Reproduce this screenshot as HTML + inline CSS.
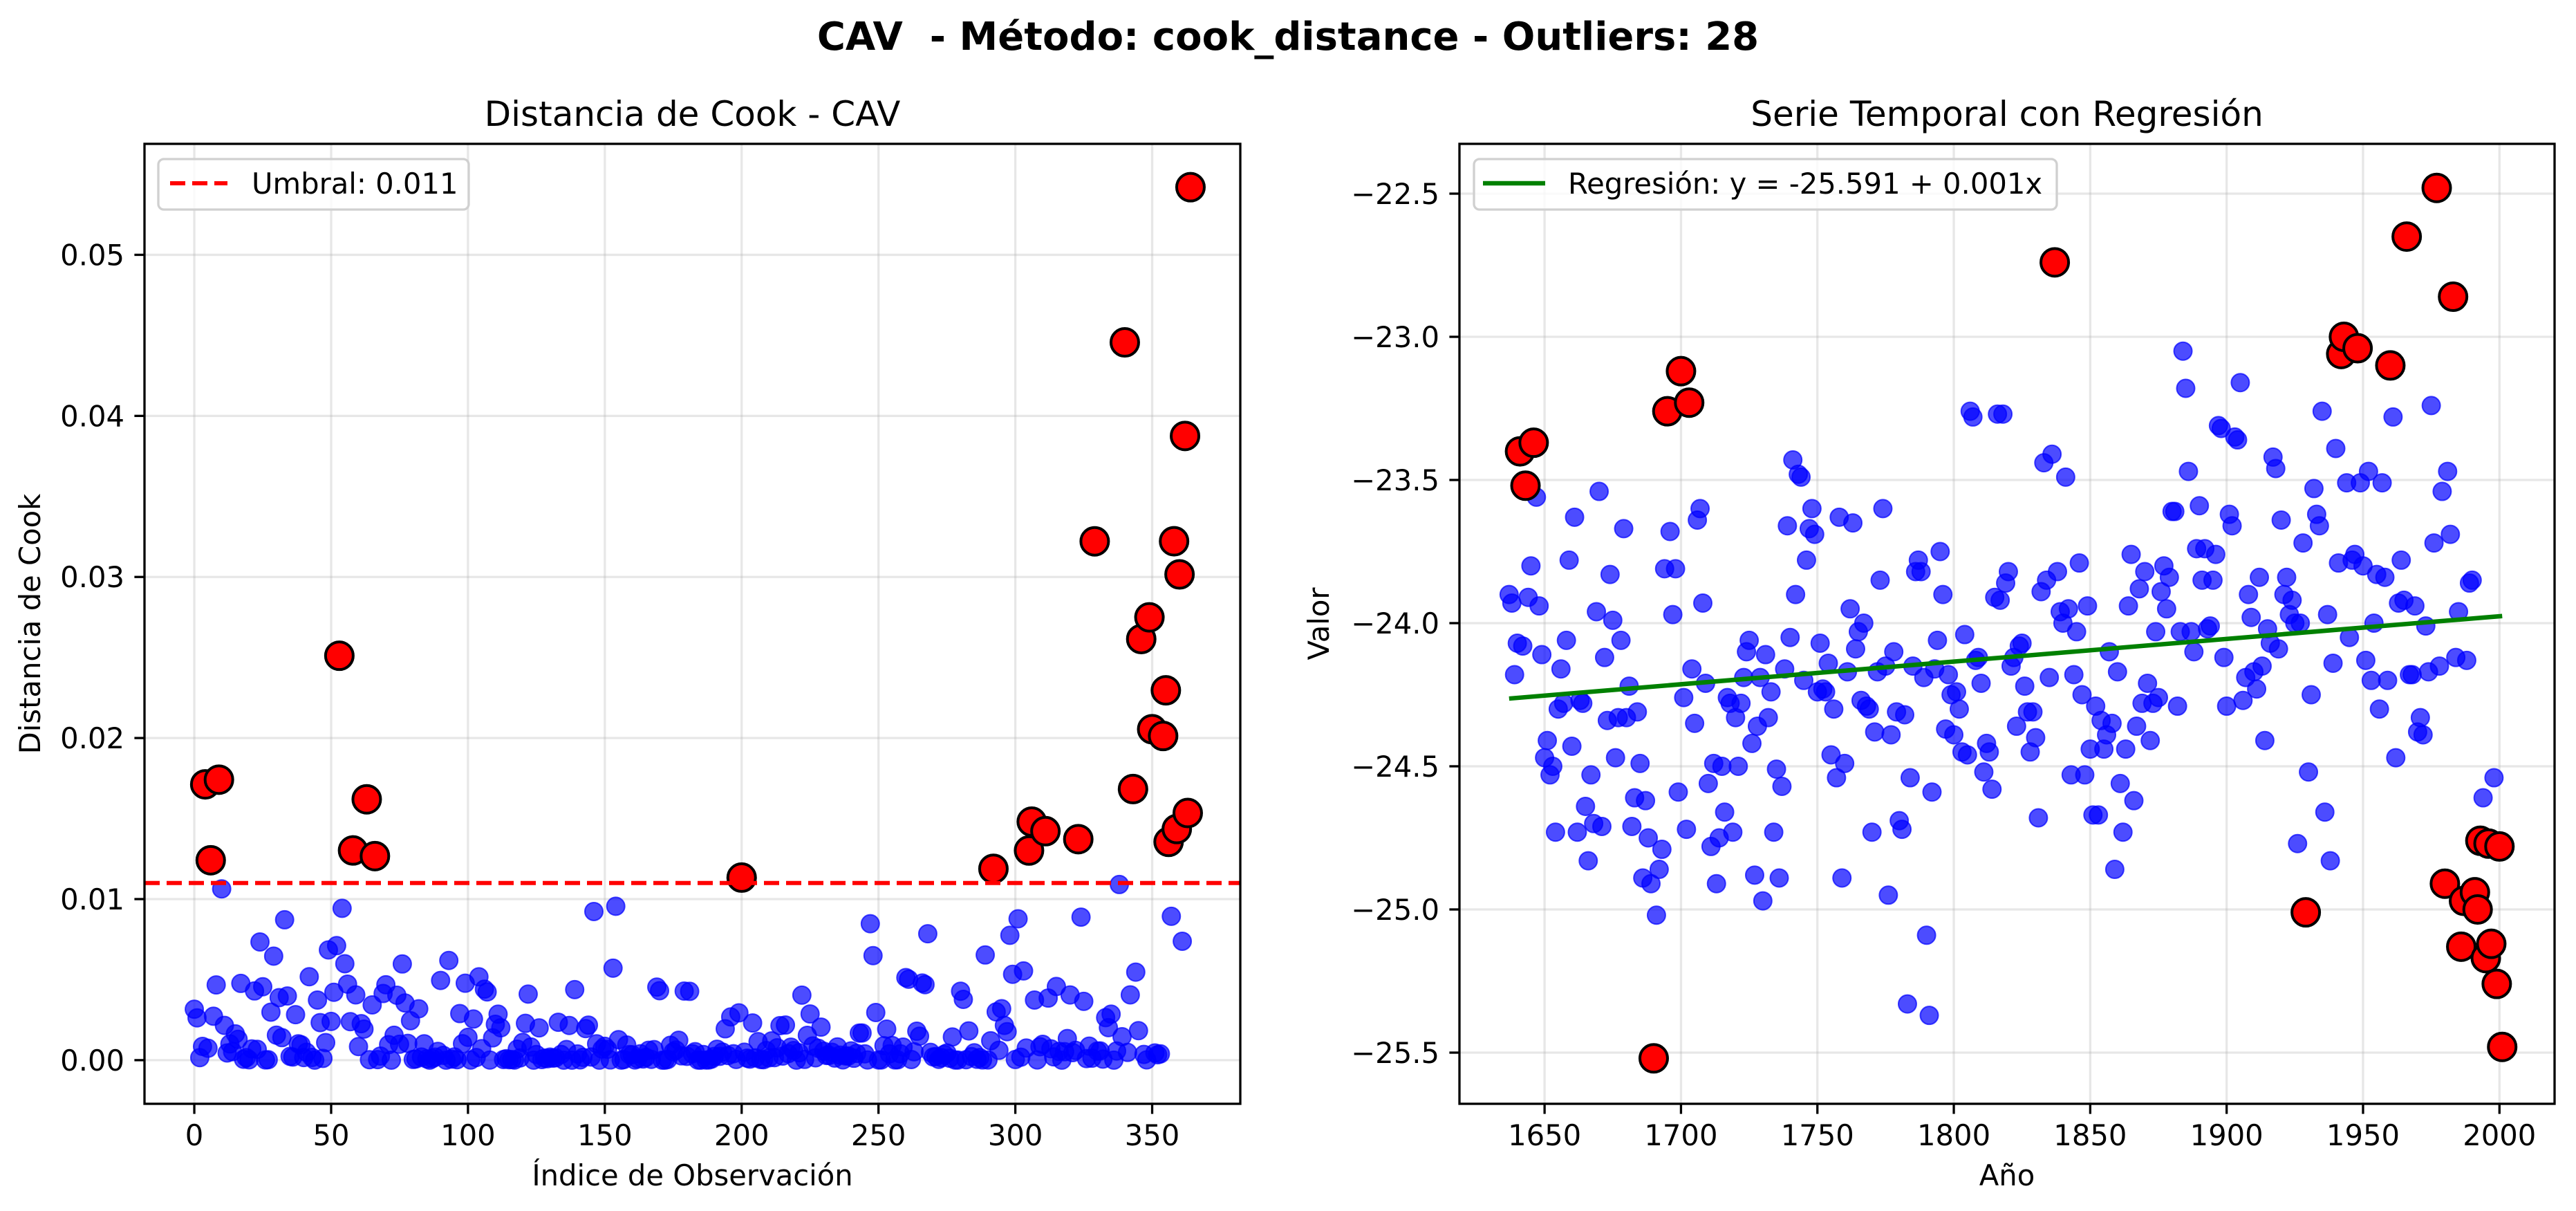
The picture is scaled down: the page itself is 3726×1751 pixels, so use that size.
<!DOCTYPE html>
<html><head><meta charset="utf-8"><style>
html,body{margin:0;padding:0;background:#fff;}
svg{display:block;font-family:"DejaVu Sans","Liberation Sans",sans-serif;}
</style></head><body>
<svg id="fig" width="3726" height="1751" viewBox="0 0 3726 1751" xmlns="http://www.w3.org/2000/svg">
<rect x="0" y="0" width="3726" height="1751" fill="#fff"/>
<text x="1863" y="72" text-anchor="middle" font-size="56" font-weight="bold" style="white-space:pre" xml:space="preserve">CAV  - Método: cook_distance - Outliers: 28</text>
<g id="left"></g>
<g id="right"></g>
</svg>
<script>
const startYear = 1637;
const threshold = 0.011;
const values = [
-23.90,-23.93,-24.18,-24.07,-23.40,-24.08,-23.52,-23.91,-23.80,-23.37,
-23.56,-23.94,-24.11,-24.47,
-24.41,-24.53,-24.50,-24.73,-24.30,-24.16,-24.28,-24.06,-23.78,
-24.43,-23.63,-24.73,-24.27,-24.28,-24.64,-24.83,-24.53,-24.70,-23.96,
-23.54,-24.71,-24.12,-24.34,-23.83,-23.99,-24.47,-24.33,-24.06,-23.67,
-24.33,-24.22,-24.71,-24.61,-24.31,-24.49,-24.89,-24.62,-24.75,-24.91,
-25.52,-25.02,-24.86,-24.79,-23.81,-23.26,-23.68,-23.97,-23.81,-24.59,-23.12,-24.26,-24.72,-23.23,
-24.16,-24.35,-23.64,-23.60,-23.93,-24.21,-24.56,-24.78,-24.49,-24.91,-24.75,
-24.50,-24.66,-24.26,-24.28,-24.73,-24.33,-24.50,-24.28,-24.19,-24.10,
-24.06,-24.42,-24.88,-24.36,-24.19,-24.97,-24.11,-24.33,-24.24,-24.73,
-24.51,-24.89,-24.57,-24.16,-23.66,-24.05,-23.43,-23.90,-23.48,-23.49,-24.20,
-23.78,-23.67,-23.60,-23.69,-24.24,-24.07,-24.23,-24.24,-24.14,-24.46,-24.30,
-24.54,-23.63,-24.89,-24.49,-24.17,-23.95,-23.65,-24.09,-24.03,-24.27,-24.00,
-24.29,-24.30,-24.73,-24.38,-24.17,-23.85,-23.60,-24.15,-24.95,-24.39,-24.10,
-24.31,-24.69,-24.72,-24.32,-25.33,-24.54,-24.15,-23.82,-23.78,-23.82,
-24.19,-25.09,-25.37,-24.59,-24.16,-24.06,-23.75,-23.90,-24.37,-24.18,-24.25,
-24.39,-24.24,-24.30,-24.45,-24.04,-24.46,-23.26,-23.28,-24.13,-24.12,
-24.21,-24.52,-24.42,-24.45,-24.58,-23.91,-23.27,
-23.92,-23.27,-23.86,-23.82,-24.15,-24.12,-24.36,-24.08,-24.07,-24.22,
-24.31,-24.45,-24.31,-24.40,-24.68,-23.89,-23.44,-23.85,-24.19,-23.41,
-22.74,-23.82,-23.96,-24.00,-23.49,-23.95,-24.53,-24.18,-24.03,-23.79,
-24.25,-24.53,-23.94,-24.44,-24.67,-24.29,-24.67,-24.34,-24.44,-24.39,-24.10,
-24.35,-24.86,-24.17,-24.56,-24.73,-24.44,-23.94,-23.76,-24.62,-24.36,
-23.88,-24.28,-23.82,-24.21,-24.41,-24.28,-24.03,-24.26,-23.89,-23.80,
-23.95,-23.84,-23.61,-23.61,-24.29,-24.03,-23.05,-23.18,-23.47,-24.03,
-24.10,-23.74,-23.59,-23.85,-23.74,-24.02,-24.01,-23.85,-23.76,-23.31,
-23.32,-24.12,-24.29,-23.62,-23.66,-23.35,-23.36,-23.16,-24.27,-24.19,-23.90,
-23.98,-24.17,-24.23,-23.84,-24.15,-24.41,-24.02,-24.07,-23.42,-23.46,
-24.09,-23.64,-23.90,-23.84,-23.97,-23.92,-24.00,-24.77,-24.00,-23.72,
-25.01,-24.52,-24.25,-23.53,-23.62,-23.66,-23.26,-24.66,-23.97,-24.83,
-24.14,-23.39,-23.79,-23.06,-23.00,-23.51,-24.05,-23.78,-23.76,-23.04,
-23.51,-23.80,-24.13,-23.47,-24.20,-24.00,-23.83,-24.30,-23.51,-23.84,
-24.20,-23.10,-23.28,-24.47,-23.93,-23.78,-23.92,-22.65,-24.18,-24.18,
-23.94,-24.38,-24.33,-24.39,-24.01,-24.17,-23.24,-23.72,-22.48,-24.15,
-23.54,-24.91,-23.47,-23.69,-22.86,-24.12,-23.96,-25.13,-24.97,-24.13,
-23.86,-23.85,-24.94,-25.00,-24.76,-24.61,-25.17,-24.77,-25.12,-24.54,
-25.26,-24.78,-25.48
];
const cookTicks = [0, 0.01, 0.02, 0.03, 0.04, 0.05];
const cookTickLabels = ["0.00","0.01","0.02","0.03","0.04","0.05"];
const indexTicks = [0,50,100,150,200,250,300,350];
const yearTicks = [1650,1700,1750,1800,1850,1900,1950,2000];
const valueTicks = [-25.5,-25.0,-24.5,-24.0,-23.5,-23.0,-22.5];
const valueTickLabels = ["\u221225.5","\u221225.0","\u221224.5","\u221224.0","\u221223.5","\u221223.0","\u221222.5"];

const NS = "http://www.w3.org/2000/svg";
function mk(tag, attrs, parent){ const e=document.createElementNS(NS,tag); for(const k in attrs) e.setAttribute(k,attrs[k]); parent.appendChild(e); return e; }

const n = values.length;
const years = values.map((v,i)=>startYear+i);
const mx = years.reduce((a,b)=>a+b,0)/n, my = values.reduce((a,b)=>a+b,0)/n;
let sxx=0, sxy=0; for(let i=0;i<n;i++){ sxx+=(years[i]-mx)**2; sxy+=(years[i]-mx)*(values[i]-my); }
const slope = sxy/sxx, intercept = my - slope*mx;
const resid = values.map((v,i)=>v-(intercept+slope*years[i]));
const mse = resid.reduce((a,e)=>a+e*e,0)/(n-2);
const cook = resid.map((e,i)=>{ const h=1/n+(years[i]-mx)**2/sxx; return e*e/(2*mse)*h/((1-h)**2); });
const isOut = cook.map(c=>c>threshold);

const T=208, B=1596;
const L1=209, R1=1794, L2=2111, R2=3695;
const xL = v => L1 + (v+18.2)/400.4*(R1-L1);
const yL = v => B - (v+0.00271)/0.0596*(B-T);
const xR = v => L2 + (v-1618.8)/401.4*(R2-L2);
const yR = v => 280 + (-22.5 - v)*414;

function axes(g, L, R, xt, xs, xlabels, yt, ys, ylabels, title, xtitle, ytitle, ytx){
  for(const t of xt){ const l=mk('line',{x1:xs(t),x2:xs(t),y1:T,y2:B,stroke:'#b0b0b0','stroke-opacity':0.3,'stroke-width':3.3},g);
      }
  for(const t of yt){ const l=mk('line',{x1:L,x2:R,y1:ys(t),y2:ys(t),stroke:'#b0b0b0','stroke-opacity':0.3,'stroke-width':3.3},g);
      }
  xt.forEach((t,i)=>{ mk('line',{x1:xs(t),x2:xs(t),y1:B,y2:B+14.6,stroke:'#000','stroke-width':3.3},g);
    const tx=mk('text',{x:xs(t),y:B+60,'text-anchor':'middle','font-size':41.7},g); tx.textContent=xlabels[i];
      });
  yt.forEach((t,i)=>{ mk('line',{x1:L-14.6,x2:L,y1:ys(t),y2:ys(t),stroke:'#000','stroke-width':3.3},g);
    const tx=mk('text',{x:L-29,y:ys(t)+15,'text-anchor':'end','font-size':41.7},g); tx.textContent=ylabels[i];
      });
  const tt=mk('text',{x:(L+R)/2,y:T-26,'text-anchor':'middle','font-size':50},g); tt.textContent=title;
   
  const xl=mk('text',{x:(L+R)/2,y:1714,'text-anchor':'middle','font-size':41.7},g); xl.textContent=xtitle;
   
  const yl=mk('text',{x:ytx,y:(T+B)/2,'text-anchor':'middle','font-size':41.7,transform:`rotate(-90 ${ytx} ${(T+B)/2})`},g); yl.textContent=ytitle;
   
}
function frame(g,L,R){ const r=mk('rect',{x:L,y:T,width:R-L,height:B-T,fill:'none',stroke:'#000','stroke-width':3.3},g);
    }

const gl=document.getElementById('left'), gr=document.getElementById('right');
axes(gl,L1,R1,indexTicks,xL,indexTicks.map(String),cookTicks,yL,cookTickLabels,'Distancia de Cook - CAV','Índice de Observación','Distancia de Cook',58);
axes(gr,L2,R2,yearTicks,xR,yearTicks.map(String),valueTicks,yR,valueTickLabels,'Serie Temporal con Regresión','Año','Valor',1922);

for(let i=0;i<n;i++){ const c=mk('circle',{cx:xL(i),cy:yL(cook[i]),r:13,fill:'#0000ff','fill-opacity':0.7,stroke:'#0000ff','stroke-opacity':0.7,'stroke-width':2},gl);
    }
for(let i=0;i<n;i++){ if(!isOut[i]) continue; const c=mk('circle',{cx:xL(i),cy:yL(cook[i]),r:20,fill:'#ff0000',stroke:'#000','stroke-width':4},gl);
    }
const th=mk('line',{x1:L1,x2:R1,y1:yL(threshold),y2:yL(threshold),stroke:'#ff0000','stroke-width':6,'stroke-dasharray':'22 10'},gl);
 
frame(gl,L1,R1);

for(let i=0;i<n;i++){ if(isOut[i]) continue; const c=mk('circle',{cx:xR(years[i]),cy:yR(values[i]),r:13,fill:'#0000ff','fill-opacity':0.7,stroke:'#0000ff','stroke-opacity':0.7,'stroke-width':2},gr);
    }
const rl=mk('line',{x1:xR(years[0]),x2:xR(years[n-1]),y1:yR(intercept+slope*years[0]),y2:yR(intercept+slope*years[n-1]),stroke:'#008000','stroke-width':6.5},gr);
 
for(let i=0;i<n;i++){ if(!isOut[i]) continue; const c=mk('circle',{cx:xR(years[i]),cy:yR(values[i]),r:20,fill:'#ff0000',stroke:'#000','stroke-width':4},gr);
    }
frame(gr,L2,R2);

const lg1=mk('g',{},gl);  
mk('rect',{x:229,y:230,width:449,height:73,rx:8,fill:'#fff','fill-opacity':0.8,stroke:'#d0d0d0','stroke-width':3.3},lg1);
mk('line',{x1:246,x2:329,y1:265,y2:265,stroke:'#ff0000','stroke-width':6,'stroke-dasharray':'22 10'},lg1);
const lt1=mk('text',{x:364,y:280,'font-size':41.7},lg1); lt1.textContent='Umbral: 0.011';
 
const lg2=mk('g',{},gr);  
mk('rect',{x:2132,y:230,width:843,height:73,rx:8,fill:'#fff','fill-opacity':0.8,stroke:'#d0d0d0','stroke-width':3.3},lg2);
mk('line',{x1:2145,x2:2235,y1:265,y2:265,stroke:'#008000','stroke-width':6.5},lg2);
const lt2=mk('text',{x:2268,y:280,'font-size':41.7},lg2); lt2.textContent='Regresión: y = -25.591 + 0.001x';
 
</script>
</body></html>
